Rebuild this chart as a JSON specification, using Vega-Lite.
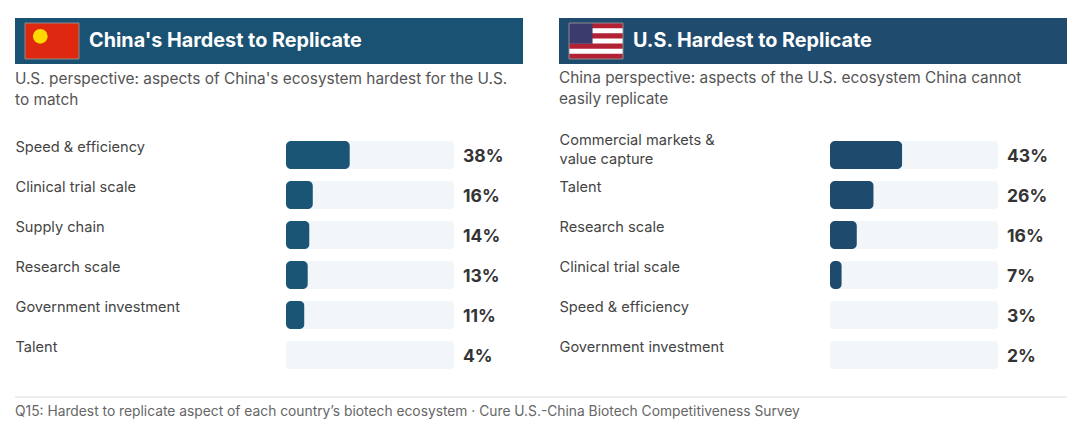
{
  "$schema": "https://vega.github.io/schema/vega-lite/v6.json",
  "padding": {"left": 14, "top": 18, "right": 14, "bottom": 0},
  "autosize": {"type": "pad"},
  "background": "white",
  "datasets": {
    "china": [
      {"aspect": "Speed & efficiency", "value": 0.38},
      {"aspect": "Clinical trial scale", "value": 0.16},
      {"aspect": "Supply chain", "value": 0.14},
      {"aspect": "Research scale", "value": 0.13},
      {"aspect": "Government investment", "value": 0.11},
      {"aspect": "Talent", "value": 0.04}
    ],
    "us": [
      {"aspect": "Commercial markets & value capture", "value": 0.43},
      {"aspect": "Talent", "value": 0.26},
      {"aspect": "Research scale", "value": 0.16},
      {"aspect": "Clinical trial scale", "value": 0.07},
      {"aspect": "Speed & efficiency", "value": 0.03},
      {"aspect": "Government investment", "value": 0.02}
    ],
    "stripes": [{"stripe": 1}, {"stripe": 3}, {"stripe": 5}, {"stripe": 7}],
    "one": [{"item": "flag"}]
  },
  "vconcat": [
    {
      "hconcat": [
        {
          "vconcat": [
            {
              "width": 508, "height": 46,
              "data": {"name": "one"},
              "view": {"fill": "#1a5273", "stroke": null},
              "layer": [
                {
                  "mark": {"type": "rect", "fill": "#de2910", "stroke": "#8d8d8d", "strokeWidth": 1},
                  "encoding": {
                    "x": {"datum": 0.0197, "type": "quantitative", "scale": {"domain": [0, 1]}, "axis": null},
                    "x2": {"datum": 0.126},
                    "y": {"datum": 0.109, "type": "quantitative", "scale": {"domain": [0, 1], "reverse": true}, "axis": null},
                    "y2": {"datum": 0.891}
                  }
                },
                {
                  "mark": {"type": "point", "shape": "circle", "filled": true, "fill": "#ffd900", "opacity": 1, "size": 215, "strokeWidth": 0},
                  "encoding": {
                    "x": {"datum": 0.0498, "type": "quantitative"},
                    "y": {"datum": 0.398, "type": "quantitative"}
                  }
                },
                {
                  "mark": {"type": "text", "text": "China's Hardest to Replicate", "color": "white", "fontWeight": "bold", "fontSize": 19.8, "align": "left", "baseline": "middle"},
                  "encoding": {
                    "x": {"datum": 0.1457, "type": "quantitative"},
                    "y": {"datum": 0.5, "type": "quantitative"}
                  }
                }
              ]
            },
            {
              "width": 508, "height": 240,
              "data": {"name": "china"},
              "title": {"text": ["U.S. perspective: aspects of China's ecosystem hardest for the U.S.", "to match"]},
              "encoding": {
                "y": {
                  "field": "aspect", "type": "nominal", "sort": null,
                  "scale": {"paddingInner": 0.3, "paddingOuter": 0.15},
                  "axis": {"title": null, "domain": false, "ticks": false, "tickSize": 0, "labelPadding": 0, "labelAlign": "left", "labelBaseline": "middle", "labelOffset": -7, "labelFontSize": 14.6, "labelColor": "#444444", "labelLimit": 300, "labelLineHeight": 19}
                }
              },
              "layer": [
                {
                  "mark": {"type": "bar", "color": "#f3f6f9", "cornerRadius": 4},
                  "encoding": {"x": {"datum": 1, "type": "quantitative", "scale": {"domain": [0, 1], "range": [271, 439]}, "axis": null}}
                },
                {
                  "mark": {"type": "bar", "color": "#1a5575", "cornerRadius": 5},
                  "encoding": {
                    "x": {"field": "value", "type": "quantitative"},
                    "opacity": {"condition": {"test": "datum.value < 0.05", "value": 0}, "value": 1}
                  }
                },
                {
                  "mark": {"type": "text", "align": "left", "baseline": "middle", "dx": 9, "dy": 2, "fontWeight": "bold", "fontSize": 17.5, "color": "#333333"},
                  "encoding": {
                    "x": {"datum": 1, "type": "quantitative"},
                    "text": {"field": "value", "type": "quantitative", "format": ".0%"}
                  }
                }
              ]
            }
          ],
          "spacing": 7
        },
        {
          "vconcat": [
            {
              "width": 508, "height": 46,
              "data": {"name": "one"},
              "view": {"fill": "#1f4b6e", "stroke": null},
              "resolve": {"scale": {"y": "independent"}},
              "layer": [
                {
                  "mark": {"type": "rect", "fill": "#ffffff"},
                  "encoding": {
                    "x": {"datum": 0.0197, "type": "quantitative", "scale": {"domain": [0, 1]}, "axis": null},
                    "x2": {"datum": 0.126},
                    "y": {"datum": 0.109, "type": "quantitative", "scale": {"domain": [0, 1], "reverse": true}, "axis": null},
                    "y2": {"datum": 0.891}
                  }
                },
                {
                  "data": {"name": "stripes"},
                  "mark": {"type": "rect", "fill": "#b22234"},
                  "encoding": {
                    "x": {"datum": 0.0197, "type": "quantitative"},
                    "x2": {"datum": 0.126},
                    "y": {"field": "stripe", "type": "ordinal", "scale": {"domain": [1, 2, 3, 4, 5, 6, 7], "range": [5, 41], "paddingInner": 0, "paddingOuter": 0}, "axis": null}
                  }
                },
                {
                  "mark": {"type": "rect", "fill": "#3c3b6e"},
                  "encoding": {
                    "x": {"datum": 0.0197, "type": "quantitative"},
                    "x2": {"datum": 0.066},
                    "y": {"datum": 0.109, "type": "quantitative", "scale": {"domain": [0, 1], "reverse": true}, "axis": null},
                    "y2": {"datum": 0.56}
                  }
                },
                {
                  "mark": {"type": "rect", "fillOpacity": 0, "stroke": "#8d8d8d", "strokeWidth": 1},
                  "encoding": {
                    "x": {"datum": 0.0197, "type": "quantitative"},
                    "x2": {"datum": 0.126},
                    "y": {"datum": 0.109, "type": "quantitative", "scale": {"domain": [0, 1], "reverse": true}, "axis": null},
                    "y2": {"datum": 0.891}
                  }
                },
                {
                  "mark": {"type": "text", "text": "U.S. Hardest to Replicate", "color": "white", "fontWeight": "bold", "fontSize": 19.8, "align": "left", "baseline": "middle"},
                  "encoding": {
                    "x": {"datum": 0.1457, "type": "quantitative"},
                    "y": {"datum": 0.5, "type": "quantitative", "scale": {"domain": [0, 1]}, "axis": null}
                  }
                }
              ]
            },
            {
              "width": 508, "height": 240,
              "data": {"name": "us"},
              "title": {"text": ["China perspective: aspects of the U.S. ecosystem China cannot", "easily replicate"], "offset": 25},
              "encoding": {
                "y": {
                  "field": "aspect", "type": "nominal", "sort": null,
                  "scale": {"paddingInner": 0.3, "paddingOuter": 0.15},
                  "axis": {"title": null, "domain": false, "ticks": false, "tickSize": 0, "labelPadding": 0, "labelAlign": "left", "labelBaseline": "middle",
                    "labelOffset": {"condition": {"test": "datum.value == 'Commercial markets & value capture'", "value": -14}, "value": -7},
                    "labelFontSize": 14.6, "labelColor": "#444444", "labelLimit": 300, "labelLineHeight": 19,
                    "labelExpr": "datum.value == 'Commercial markets & value capture' ? ['Commercial markets &', 'value capture'] : datum.value"}
                }
              },
              "layer": [
                {
                  "mark": {"type": "bar", "color": "#f3f6f9", "cornerRadius": 4},
                  "encoding": {"x": {"datum": 1, "type": "quantitative", "scale": {"domain": [0, 1], "range": [271, 439]}, "axis": null}}
                },
                {
                  "mark": {"type": "bar", "color": "#1e4a6e", "cornerRadius": 5},
                  "encoding": {
                    "x": {"field": "value", "type": "quantitative"},
                    "opacity": {"condition": {"test": "datum.value < 0.05", "value": 0}, "value": 1}
                  }
                },
                {
                  "mark": {"type": "text", "align": "left", "baseline": "middle", "dx": 9, "dy": 2, "fontWeight": "bold", "fontSize": 17.5, "color": "#333333"},
                  "encoding": {
                    "x": {"datum": 1, "type": "quantitative"},
                    "text": {"field": "value", "type": "quantitative", "format": ".0%"}
                  }
                }
              ]
            }
          ],
          "spacing": 7
        }
      ],
      "spacing": 36
    },
    {
      "width": 1052, "height": 1,
      "data": {"name": "one"},
      "mark": {"type": "rule", "color": "#dedede", "strokeWidth": 1},
      "encoding": {"y": {"datum": 0, "type": "quantitative", "scale": {"domain": [0, 1]}, "axis": null}},
      "title": {"text": "Q15: Hardest to replicate aspect of each country\u2019s biotech ecosystem  \u00b7  Cure U.S.-China Biotech Competitiveness Survey", "orient": "bottom", "anchor": "start", "fontSize": 13.8, "color": "#666666", "offset": 7, "lineHeight": 16}
    }
  ],
  "spacing": 21,
  "config": {
    "font": "Inter",
    "view": {"stroke": null},
    "title": {"fontSize": 15.4, "fontWeight": "normal", "color": "#555555", "anchor": "start", "lineHeight": 21, "offset": 27, "frame": "group"}
  }
}
